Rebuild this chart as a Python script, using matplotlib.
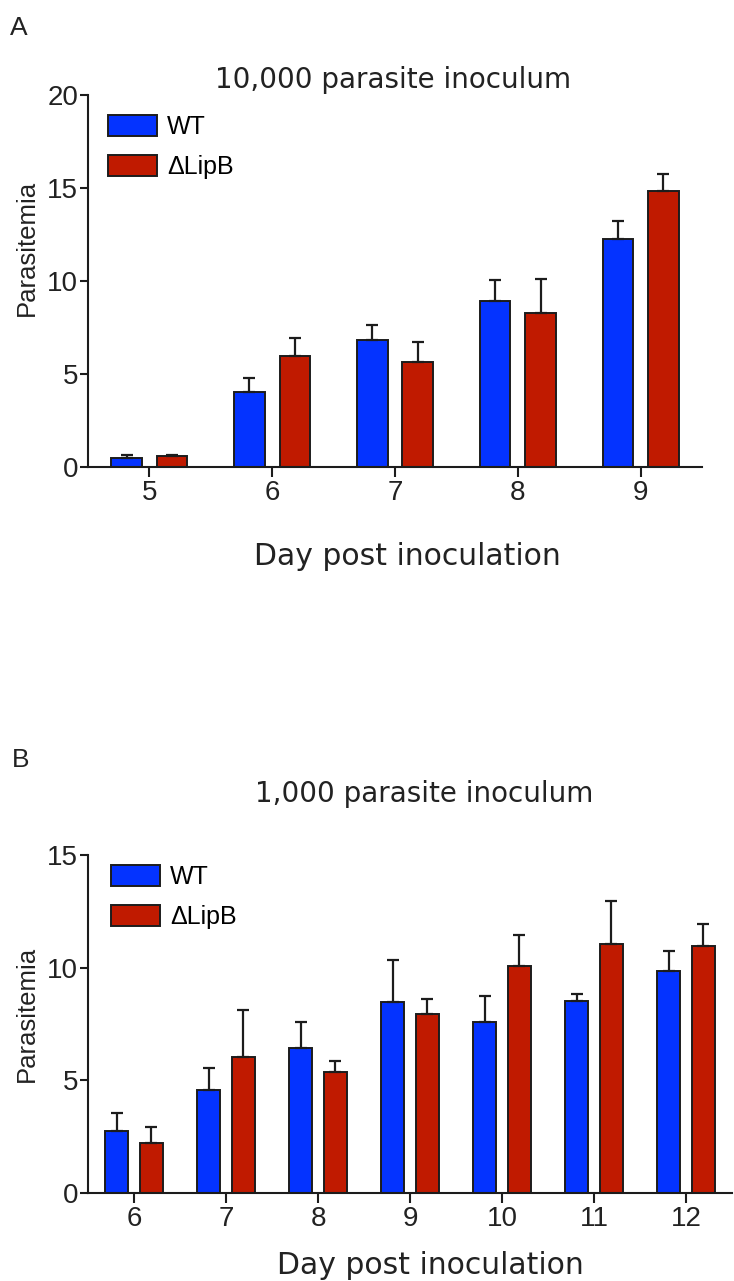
import matplotlib
matplotlib.use("Agg")
import matplotlib.pyplot as plt
import numpy as np

plt.rcParams["font.family"] = ["Liberation Sans", "DejaVu Sans"]

# Panel A: 10,000 parasite inoculum
days_a = [5, 6, 7, 8, 9]
wt_a = [0.47, 4.02, 6.84, 8.92, 12.26]
wt_a_err = [0.18, 0.79, 0.81, 1.13, 0.97]
lipb_a = [0.60, 5.98, 5.66, 8.28, 14.83]
lipb_a_err = [0.05, 0.95, 1.07, 1.81, 0.93]

# Panel B: 1,000 parasite inoculum
days_b = [6, 7, 8, 9, 10, 11, 12]
wt_b = [2.74, 4.57, 6.44, 8.48, 7.58, 8.54, 9.87]
wt_b_err = [0.81, 0.99, 1.13, 1.84, 1.17, 0.31, 0.85]
lipb_b = [2.20, 6.05, 5.39, 7.94, 10.07, 11.06, 10.96]
lipb_b_err = [0.72, 2.08, 0.47, 0.69, 1.39, 1.88, 0.96]

BLUE = "#0433FF"
RED = "#C01A00"
INK = "#1c1c1c"
WIDE = ["DejaVu Sans"]

W, H = 734, 1281
fig = plt.figure(figsize=(W / 100, H / 100), dpi=100)


def px_axes(left, top, right, bottom):
    return fig.add_axes([left / W, 1 - bottom / H, (right - left) / W, (bottom - top) / H])


def draw_panel(ax, days, wt, wt_err, lipb, lipb_err, ymax, legend_anchor):
    x = np.asarray(days, dtype=float)
    width = 0.25
    off = 0.185
    ekw = dict(ecolor=INK, elinewidth=1.6, capsize=4.5, capthick=1.6)
    zeros = np.zeros(len(days))
    ax.bar(x - off, wt, width, color=BLUE, edgecolor=INK, linewidth=1.4,
           yerr=[zeros, wt_err], error_kw=ekw, label="WT")
    ax.bar(x + off, lipb, width, color=RED, edgecolor=INK, linewidth=1.4,
           yerr=[zeros, lipb_err], error_kw=ekw, label="\u0394LipB")
    ax.set_xlim(days[0] - 0.5, days[-1] + 0.5)
    ax.set_ylim(0, ymax)
    ax.set_xticks(days)
    ax.set_yticks(np.arange(0, ymax + 1, 5))
    for s in ("top", "right"):
        ax.spines[s].set_visible(False)
    for s in ("left", "bottom"):
        ax.spines[s].set_linewidth(1.5)
        ax.spines[s].set_color(INK)
    ax.tick_params(axis="both", direction="out", width=1.5, color=INK,
                   labelsize=20, labelcolor="#222222")
    ax.tick_params(axis="x", length=7, pad=2)
    ax.tick_params(axis="y", length=6, pad=1)
    ax.legend(loc="upper left", bbox_to_anchor=legend_anchor, frameon=False,
              fontsize=18, handlelength=1.95, handleheight=0.92,
              handletextpad=0.4, labelspacing=0.62, borderpad=0,
              borderaxespad=0)


axA = px_axes(88, 95, 702, 467)
draw_panel(axA, days_a, wt_a, wt_a_err, lipb_a, lipb_a_err, 20, (0.033, 0.946))

axB = px_axes(88, 855, 732, 1193)
draw_panel(axB, days_b, wt_b, wt_b_err, lipb_b, lipb_b_err, 15, (0.036, 0.970))

txt = dict(color="#222222")
fig.text(10 / W, 1 - 35 / H, "A", fontsize=19, ha="left", va="baseline", **txt)
fig.text(12 / W, 1 - 767 / H, "B", fontsize=19, ha="left", va="baseline", **txt)

fig.text(393 / W, 1 - 88 / H, "10,000 parasite inoculum", fontsize=20,
         family=WIDE, ha="center", va="baseline", **txt)
fig.text(424 / W, 1 - 802 / H, "1,000 parasite inoculum", fontsize=20,
         family=WIDE, ha="center", va="baseline", **txt)

fig.text(407 / W, 1 - 565 / H, "Day post inoculation", fontsize=21.5,
         family=WIDE, ha="center", va="baseline", **txt)
fig.text(430 / W, 1 - 1274 / H, "Day post inoculation", fontsize=21.5,
         family=WIDE, ha="center", va="baseline", **txt)

ylab = dict(rotation=90, ha="center", va="center", fontsize=18.5, **txt)
fig.text(27 / W, 1 - 248 / H, "Parasitemia", **ylab)
fig.text(27 / W, 1 - 1014 / H, "Parasitemia", **ylab)

fig.savefig("out.png", dpi=100)
